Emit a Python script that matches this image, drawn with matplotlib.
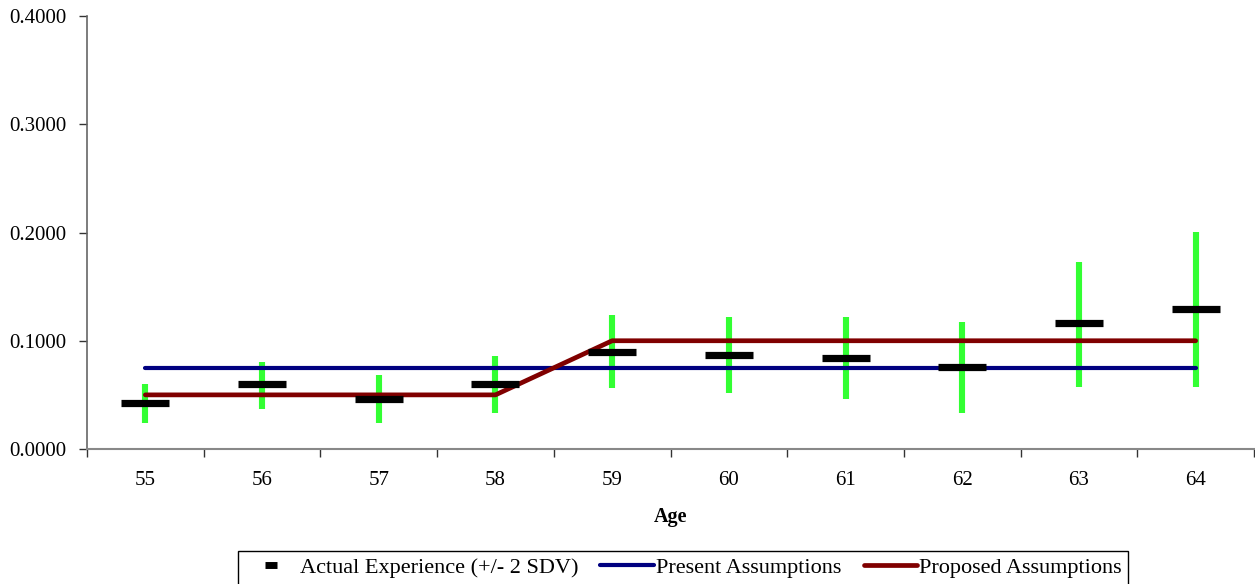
import matplotlib
matplotlib.use("Agg")
import matplotlib.pyplot as plt
from matplotlib.lines import Line2D
import numpy as np

ages = [55, 56, 57, 58, 59, 60, 61, 62, 63, 64]
actual = [0.0422, 0.0596, 0.0465, 0.0596, 0.0899, 0.0870, 0.0840, 0.0755, 0.1162, 0.1289]
upper = [0.0600, 0.0804, 0.0684, 0.0859, 0.1238, 0.1220, 0.1220, 0.1173, 0.1727, 0.2004]
lower = [0.0243, 0.0372, 0.0243, 0.0335, 0.0566, 0.0520, 0.0465, 0.0335, 0.0575, 0.0575]
present = [0.075, 0.075, 0.075, 0.075, 0.075, 0.075, 0.075, 0.075, 0.075, 0.075]
proposed = [0.05, 0.05, 0.05, 0.05, 0.10, 0.10, 0.10, 0.10, 0.10, 0.10]
yticks = [0.0, 0.1, 0.2, 0.3, 0.4]

plt.rcParams['font.family'] = ['Liberation Serif', 'DejaVu Serif']

W, H = 1255, 584
fig = plt.figure(figsize=(W / 100, H / 100), dpi=100)
ax = fig.add_axes([87 / W, 1 - 449 / H, (1254 - 87) / W, (449 - 16) / H])

x = np.arange(len(ages))
ax.vlines(x, lower, upper, colors='#33ff33', linewidth=4.4, zorder=2)
ax.plot(x, present, color='#000080', linewidth=3.0, solid_capstyle='round', zorder=3)
ax.plot(x, proposed, color='#800000', linewidth=3.4, solid_capstyle='round',
        solid_joinstyle='round', zorder=3)
ax.plot(x, actual, linestyle='none', marker='_', markersize=34, markeredgewidth=5.2,
        color='black', zorder=4)

ax.set_xlim(-0.5, len(ages) - 0.5)
ax.set_ylim(0, 0.4)
ax.set_yticks(yticks)
ax.set_yticklabels([f"{v:.4f}" for v in yticks])
ax.set_xticks(x)
ax.set_xticklabels([str(a) for a in ages])
ax.set_xticks(np.arange(-0.5, len(ages), 1.0), minor=True)
ax.tick_params(axis='x', which='major', length=0, pad=16, labelsize=15)
ax.tick_params(axis='x', which='minor', length=6, width=1, direction='out', color='#333333')
ax.tick_params(axis='y', which='major', length=6, width=1, pad=9, labelsize=15, color='#333333')

for s in ['top', 'right']:
    ax.spines[s].set_visible(False)
ax.spines['left'].set_color('#666666')
ax.spines['bottom'].set_color('#888888')
ax.spines['left'].set_linewidth(1.2)
ax.spines['bottom'].set_linewidth(1.5)

fig.text(671 / W, 1 - 517 / H, "Age", ha='center', va='center', fontsize=14.5, fontweight='bold')

handles = [
    Line2D([], [], linestyle='none', marker='_', markersize=9, markeredgewidth=5, color='black'),
    Line2D([], [], color='#000080', linewidth=3.0, solid_capstyle='round'),
    Line2D([], [], color='#800000', linewidth=3.4, solid_capstyle='round'),
]
labels = ["Actual Experience (+/- 2 SDV)", "Present Assumptions", "Proposed Assumptions"]
leg = fig.legend(handles, labels, loc='upper center', bbox_to_anchor=(683 / W, 1 - 551 / H),
                 ncol=3, fontsize=16, frameon=True, fancybox=False, framealpha=1,
                 edgecolor='black', handlelength=2.4, handletextpad=0.1, columnspacing=1.0,
                 borderpad=0.3, borderaxespad=0)
leg.get_frame().set_linewidth(1.0)

fig.savefig("out.png", dpi=100)
